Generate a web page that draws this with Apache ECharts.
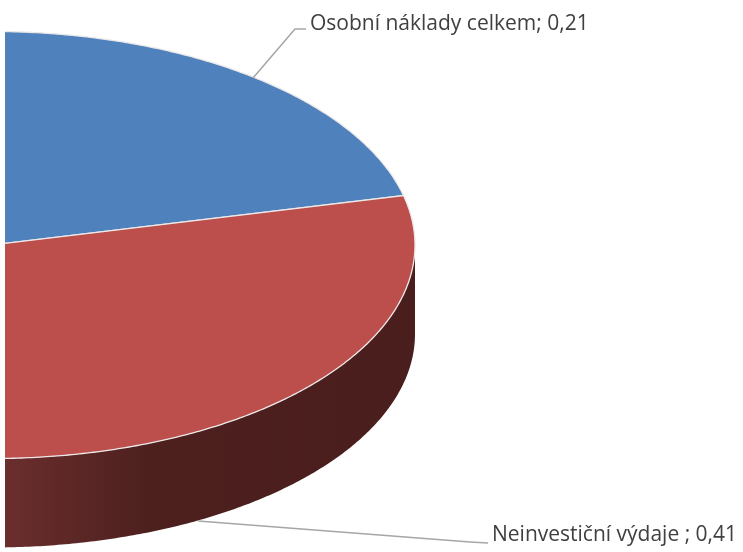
<!DOCTYPE html>
<html><head><meta charset="utf-8">
<style>html,body{margin:0;padding:0;background:#fff}#c{width:743px;height:552px}</style>
<script src="https://cdn.jsdelivr.net/npm/echarts@6/dist/echarts.min.js"></script>
</head><body><div id="c"></div>
<script>
const categories = ['Osobní náklady celkem', 'Neinvestiční výdaje '];
const values = [0.21, 0.41];
const total = 1;
const firstAngle = 1;
const colors = ['#4f81bd', '#bc4f4c'];
const labelPos = [[310, 24], [492, 535]];
const leaders = [
  [[253, 78], [295, 29], [306, 29]],
  [[198, 521], [470, 542], [488, 543]]
];
const P = {cx: -8, cy: 245, rx: 423, ry: 213.5, depth: 89, clipX: 5};
const pt = a => {
  const r = a * Math.PI / 180;
  return [P.cx + P.rx * Math.sin(r), P.cy - P.ry * Math.cos(r)];
};
const chart = echarts.init(document.getElementById('c'), null, {renderer: 'canvas'});
function renderItem(params, api) {
  const i = params.dataIndex;
  let start = firstAngle;
  for (let k = 0; k < i; k++) start += values[k] / total * 360;
  const end = start + api.value(0) / total * 360;
  const rim = [], children = [];
  for (let a = start; a <= end + 1e-6; a += 0.5) rim.push(pt(a));
  rim.push(pt(end));
  const ws = Math.max(start, 90), we = Math.min(end, 270);
  if (we > ws) {
    const top = [], bot = [];
    for (let a = ws; a <= we + 1e-6; a += 0.5) {
      const p = pt(a);
      top.push(p); bot.unshift([p[0], p[1] + P.depth]);
    }
    children.push({
      type: 'polygon', shape: {points: top.concat(bot)},
      style: {fill: {type: 'linear', x: 5, y: 0, x2: 415, y2: 0, global: true, colorStops: [
        {offset: 0, color: '#6a2e2d'}, {offset: 0.35, color: '#4d201e'}, {offset: 1, color: '#4a1e1d'}
      ]}}
    });
  }
  children.push({
    type: 'polygon', shape: {points: [[P.cx, P.cy]].concat(rim)},
    style: {fill: colors[i], stroke: '#ece8e8', lineWidth: 1.3}
  });
  children.push({
    type: 'polyline', shape: {points: leaders[i]},
    style: {fill: null, stroke: '#a6a6a6', lineWidth: 1.5}
  });
  const pieParts = children.slice(0, -1);
  return {type: 'group', children: [
    {type: 'group', clipPath: {type: 'rect', shape: {x: P.clipX, y: 0, width: 743, height: 552}}, children: pieParts},
    children[children.length - 1],
    {type: 'text', x: labelPos[i][0], y: labelPos[i][1],
     style: {text: categories[i] + '; ' + String(api.value(0)).replace('.', ','),
       fill: '#404040', font: '21px "Open Sans"', textAlign: 'left', textVerticalAlign: 'middle'}}
  ]};
}
chart.setOption({
  animation: false,
  backgroundColor: '#fff',
  series: [{
    type: 'custom', coordinateSystem: 'none', silent: true,
    renderItem, data: values.map(v => [v])
  }]
});
</script></body></html>
